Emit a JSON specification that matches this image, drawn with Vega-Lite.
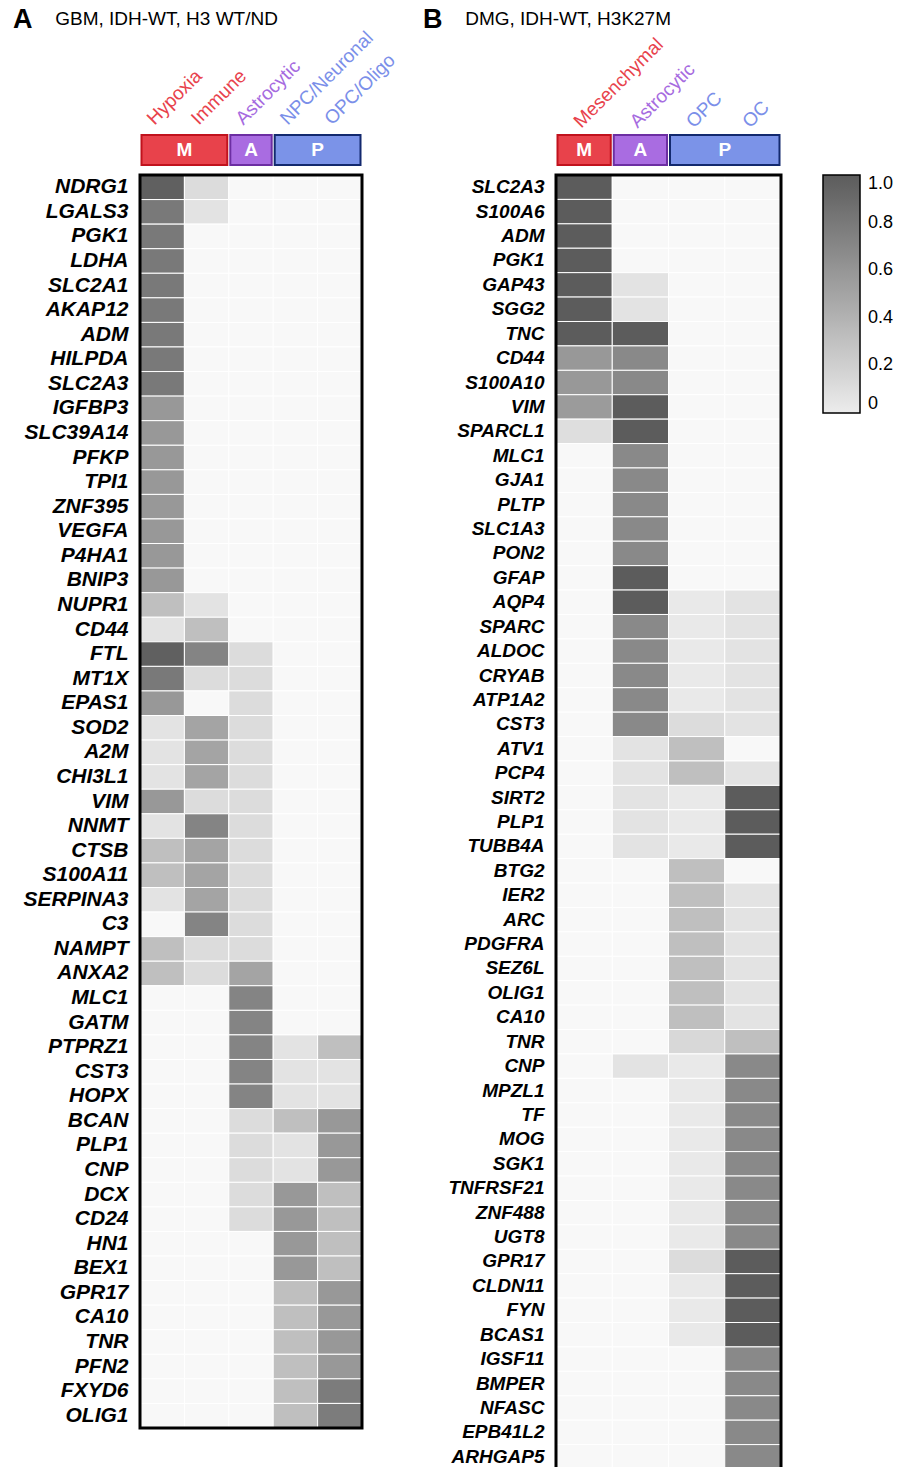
{
  "$schema": "https://vega.github.io/schema/vega-lite/v6.json",
  "background": "white",
  "padding": {"left": 12, "top": 5, "right": 5, "bottom": 0},
  "config": {"font": "Liberation Sans", "view": {"stroke": null}},
  "datasets": {
    "a": [
      {"g":"NDRG1","Hypoxia":0.97,"Immune":0.11,"Astrocytic":0,"NPC/Neuronal":0,"OPC/Oligo":0},
      {"g":"LGALS3","Hypoxia":0.8,"Immune":0.06,"Astrocytic":0,"NPC/Neuronal":0,"OPC/Oligo":0},
      {"g":"PGK1","Hypoxia":0.8,"Immune":0,"Astrocytic":0,"NPC/Neuronal":0,"OPC/Oligo":0},
      {"g":"LDHA","Hypoxia":0.8,"Immune":0,"Astrocytic":0,"NPC/Neuronal":0,"OPC/Oligo":0},
      {"g":"SLC2A1","Hypoxia":0.8,"Immune":0,"Astrocytic":0,"NPC/Neuronal":0,"OPC/Oligo":0},
      {"g":"AKAP12","Hypoxia":0.8,"Immune":0,"Astrocytic":0,"NPC/Neuronal":0,"OPC/Oligo":0},
      {"g":"ADM","Hypoxia":0.8,"Immune":0,"Astrocytic":0,"NPC/Neuronal":0,"OPC/Oligo":0},
      {"g":"HILPDA","Hypoxia":0.8,"Immune":0,"Astrocytic":0,"NPC/Neuronal":0,"OPC/Oligo":0},
      {"g":"SLC2A3","Hypoxia":0.8,"Immune":0,"Astrocytic":0,"NPC/Neuronal":0,"OPC/Oligo":0},
      {"g":"IGFBP3","Hypoxia":0.58,"Immune":0,"Astrocytic":0,"NPC/Neuronal":0,"OPC/Oligo":0},
      {"g":"SLC39A14","Hypoxia":0.58,"Immune":0,"Astrocytic":0,"NPC/Neuronal":0,"OPC/Oligo":0},
      {"g":"PFKP","Hypoxia":0.58,"Immune":0,"Astrocytic":0,"NPC/Neuronal":0,"OPC/Oligo":0},
      {"g":"TPI1","Hypoxia":0.58,"Immune":0,"Astrocytic":0,"NPC/Neuronal":0,"OPC/Oligo":0},
      {"g":"ZNF395","Hypoxia":0.58,"Immune":0,"Astrocytic":0,"NPC/Neuronal":0,"OPC/Oligo":0},
      {"g":"VEGFA","Hypoxia":0.58,"Immune":0,"Astrocytic":0,"NPC/Neuronal":0,"OPC/Oligo":0},
      {"g":"P4HA1","Hypoxia":0.58,"Immune":0,"Astrocytic":0,"NPC/Neuronal":0,"OPC/Oligo":0},
      {"g":"BNIP3","Hypoxia":0.58,"Immune":0,"Astrocytic":0,"NPC/Neuronal":0,"OPC/Oligo":0},
      {"g":"NUPR1","Hypoxia":0.31,"Immune":0.06,"Astrocytic":0,"NPC/Neuronal":0,"OPC/Oligo":0},
      {"g":"CD44","Hypoxia":0.06,"Immune":0.31,"Astrocytic":0,"NPC/Neuronal":0,"OPC/Oligo":0},
      {"g":"FTL","Hypoxia":0.97,"Immune":0.72,"Astrocytic":0.11,"NPC/Neuronal":0,"OPC/Oligo":0},
      {"g":"MT1X","Hypoxia":0.8,"Immune":0.11,"Astrocytic":0.11,"NPC/Neuronal":0,"OPC/Oligo":0},
      {"g":"EPAS1","Hypoxia":0.58,"Immune":0,"Astrocytic":0.11,"NPC/Neuronal":0,"OPC/Oligo":0},
      {"g":"SOD2","Hypoxia":0.06,"Immune":0.5,"Astrocytic":0.11,"NPC/Neuronal":0,"OPC/Oligo":0},
      {"g":"A2M","Hypoxia":0.06,"Immune":0.5,"Astrocytic":0.11,"NPC/Neuronal":0,"OPC/Oligo":0},
      {"g":"CHI3L1","Hypoxia":0.06,"Immune":0.5,"Astrocytic":0.11,"NPC/Neuronal":0,"OPC/Oligo":0},
      {"g":"VIM","Hypoxia":0.58,"Immune":0.11,"Astrocytic":0.11,"NPC/Neuronal":0,"OPC/Oligo":0},
      {"g":"NNMT","Hypoxia":0.06,"Immune":0.72,"Astrocytic":0.11,"NPC/Neuronal":0,"OPC/Oligo":0},
      {"g":"CTSB","Hypoxia":0.31,"Immune":0.5,"Astrocytic":0.11,"NPC/Neuronal":0,"OPC/Oligo":0},
      {"g":"S100A11","Hypoxia":0.31,"Immune":0.5,"Astrocytic":0.11,"NPC/Neuronal":0,"OPC/Oligo":0},
      {"g":"SERPINA3","Hypoxia":0.06,"Immune":0.5,"Astrocytic":0.11,"NPC/Neuronal":0,"OPC/Oligo":0},
      {"g":"C3","Hypoxia":0,"Immune":0.72,"Astrocytic":0.11,"NPC/Neuronal":0,"OPC/Oligo":0},
      {"g":"NAMPT","Hypoxia":0.31,"Immune":0.11,"Astrocytic":0.11,"NPC/Neuronal":0,"OPC/Oligo":0},
      {"g":"ANXA2","Hypoxia":0.31,"Immune":0.11,"Astrocytic":0.5,"NPC/Neuronal":0,"OPC/Oligo":0},
      {"g":"MLC1","Hypoxia":0,"Immune":0,"Astrocytic":0.72,"NPC/Neuronal":0,"OPC/Oligo":0},
      {"g":"GATM","Hypoxia":0,"Immune":0,"Astrocytic":0.72,"NPC/Neuronal":0,"OPC/Oligo":0},
      {"g":"PTPRZ1","Hypoxia":0,"Immune":0,"Astrocytic":0.72,"NPC/Neuronal":0.06,"OPC/Oligo":0.31},
      {"g":"CST3","Hypoxia":0,"Immune":0,"Astrocytic":0.72,"NPC/Neuronal":0.06,"OPC/Oligo":0.06},
      {"g":"HOPX","Hypoxia":0,"Immune":0,"Astrocytic":0.72,"NPC/Neuronal":0.06,"OPC/Oligo":0.06},
      {"g":"BCAN","Hypoxia":0,"Immune":0,"Astrocytic":0.11,"NPC/Neuronal":0.31,"OPC/Oligo":0.58},
      {"g":"PLP1","Hypoxia":0,"Immune":0,"Astrocytic":0.11,"NPC/Neuronal":0.06,"OPC/Oligo":0.58},
      {"g":"CNP","Hypoxia":0,"Immune":0,"Astrocytic":0.11,"NPC/Neuronal":0.06,"OPC/Oligo":0.58},
      {"g":"DCX","Hypoxia":0,"Immune":0,"Astrocytic":0.11,"NPC/Neuronal":0.58,"OPC/Oligo":0.31},
      {"g":"CD24","Hypoxia":0,"Immune":0,"Astrocytic":0.11,"NPC/Neuronal":0.58,"OPC/Oligo":0.31},
      {"g":"HN1","Hypoxia":0,"Immune":0,"Astrocytic":0,"NPC/Neuronal":0.58,"OPC/Oligo":0.31},
      {"g":"BEX1","Hypoxia":0,"Immune":0,"Astrocytic":0,"NPC/Neuronal":0.58,"OPC/Oligo":0.31},
      {"g":"GPR17","Hypoxia":0,"Immune":0,"Astrocytic":0,"NPC/Neuronal":0.31,"OPC/Oligo":0.58},
      {"g":"CA10","Hypoxia":0,"Immune":0,"Astrocytic":0,"NPC/Neuronal":0.31,"OPC/Oligo":0.58},
      {"g":"TNR","Hypoxia":0,"Immune":0,"Astrocytic":0,"NPC/Neuronal":0.31,"OPC/Oligo":0.58},
      {"g":"PFN2","Hypoxia":0,"Immune":0,"Astrocytic":0,"NPC/Neuronal":0.31,"OPC/Oligo":0.58},
      {"g":"FXYD6","Hypoxia":0,"Immune":0,"Astrocytic":0,"NPC/Neuronal":0.31,"OPC/Oligo":0.78},
      {"g":"OLIG1","Hypoxia":0,"Immune":0,"Astrocytic":0,"NPC/Neuronal":0.31,"OPC/Oligo":0.78}
    ],
    "b": [
      {"g":"SLC2A3","Mesenchymal":1,"Astrocytic":0,"OPC":0,"OC":0},
      {"g":"S100A6","Mesenchymal":1,"Astrocytic":0,"OPC":0,"OC":0},
      {"g":"ADM","Mesenchymal":1,"Astrocytic":0,"OPC":0,"OC":0},
      {"g":"PGK1","Mesenchymal":1,"Astrocytic":0,"OPC":0,"OC":0},
      {"g":"GAP43","Mesenchymal":1,"Astrocytic":0.06,"OPC":0,"OC":0},
      {"g":"SGG2","Mesenchymal":1,"Astrocytic":0.06,"OPC":0,"OC":0},
      {"g":"TNC","Mesenchymal":1,"Astrocytic":1,"OPC":0,"OC":0},
      {"g":"CD44","Mesenchymal":0.58,"Astrocytic":0.69,"OPC":0,"OC":0},
      {"g":"S100A10","Mesenchymal":0.58,"Astrocytic":0.69,"OPC":0,"OC":0},
      {"g":"VIM","Mesenchymal":0.56,"Astrocytic":1,"OPC":0,"OC":0},
      {"g":"SPARCL1","Mesenchymal":0.1,"Astrocytic":1,"OPC":0,"OC":0},
      {"g":"MLC1","Mesenchymal":0,"Astrocytic":0.69,"OPC":0,"OC":0},
      {"g":"GJA1","Mesenchymal":0,"Astrocytic":0.69,"OPC":0,"OC":0},
      {"g":"PLTP","Mesenchymal":0,"Astrocytic":0.69,"OPC":0,"OC":0},
      {"g":"SLC1A3","Mesenchymal":0,"Astrocytic":0.69,"OPC":0,"OC":0},
      {"g":"PON2","Mesenchymal":0,"Astrocytic":0.69,"OPC":0,"OC":0},
      {"g":"GFAP","Mesenchymal":0,"Astrocytic":1,"OPC":0,"OC":0},
      {"g":"AQP4","Mesenchymal":0,"Astrocytic":1,"OPC":0.02,"OC":0.06},
      {"g":"SPARC","Mesenchymal":0,"Astrocytic":0.69,"OPC":0.02,"OC":0.06},
      {"g":"ALDOC","Mesenchymal":0,"Astrocytic":0.69,"OPC":0.02,"OC":0.06},
      {"g":"CRYAB","Mesenchymal":0,"Astrocytic":0.69,"OPC":0.02,"OC":0.06},
      {"g":"ATP1A2","Mesenchymal":0,"Astrocytic":0.69,"OPC":0.02,"OC":0.06},
      {"g":"CST3","Mesenchymal":0,"Astrocytic":0.69,"OPC":0.11,"OC":0.06},
      {"g":"ATV1","Mesenchymal":0,"Astrocytic":0.06,"OPC":0.31,"OC":0},
      {"g":"PCP4","Mesenchymal":0,"Astrocytic":0.06,"OPC":0.31,"OC":0.06},
      {"g":"SIRT2","Mesenchymal":0,"Astrocytic":0.06,"OPC":0.02,"OC":1},
      {"g":"PLP1","Mesenchymal":0,"Astrocytic":0.06,"OPC":0.02,"OC":1},
      {"g":"TUBB4A","Mesenchymal":0,"Astrocytic":0.06,"OPC":0.02,"OC":1},
      {"g":"BTG2","Mesenchymal":0,"Astrocytic":0,"OPC":0.31,"OC":0},
      {"g":"IER2","Mesenchymal":0,"Astrocytic":0,"OPC":0.31,"OC":0.06},
      {"g":"ARC","Mesenchymal":0,"Astrocytic":0,"OPC":0.31,"OC":0.06},
      {"g":"PDGFRA","Mesenchymal":0,"Astrocytic":0,"OPC":0.31,"OC":0.06},
      {"g":"SEZ6L","Mesenchymal":0,"Astrocytic":0,"OPC":0.31,"OC":0.06},
      {"g":"OLIG1","Mesenchymal":0,"Astrocytic":0,"OPC":0.31,"OC":0.06},
      {"g":"CA10","Mesenchymal":0,"Astrocytic":0,"OPC":0.31,"OC":0.06},
      {"g":"TNR","Mesenchymal":0,"Astrocytic":0,"OPC":0.14,"OC":0.31},
      {"g":"CNP","Mesenchymal":0,"Astrocytic":0.06,"OPC":0.02,"OC":0.69},
      {"g":"MPZL1","Mesenchymal":0,"Astrocytic":0,"OPC":0.02,"OC":0.69},
      {"g":"TF","Mesenchymal":0,"Astrocytic":0,"OPC":0.02,"OC":0.69},
      {"g":"MOG","Mesenchymal":0,"Astrocytic":0,"OPC":0.02,"OC":0.69},
      {"g":"SGK1","Mesenchymal":0,"Astrocytic":0,"OPC":0.02,"OC":0.69},
      {"g":"TNFRSF21","Mesenchymal":0,"Astrocytic":0,"OPC":0.02,"OC":0.69},
      {"g":"ZNF488","Mesenchymal":0,"Astrocytic":0,"OPC":0.02,"OC":0.69},
      {"g":"UGT8","Mesenchymal":0,"Astrocytic":0,"OPC":0.02,"OC":0.69},
      {"g":"GPR17","Mesenchymal":0,"Astrocytic":0,"OPC":0.11,"OC":1},
      {"g":"CLDN11","Mesenchymal":0,"Astrocytic":0,"OPC":0.02,"OC":1},
      {"g":"FYN","Mesenchymal":0,"Astrocytic":0,"OPC":0.02,"OC":1},
      {"g":"BCAS1","Mesenchymal":0,"Astrocytic":0,"OPC":0.02,"OC":1},
      {"g":"IGSF11","Mesenchymal":0,"Astrocytic":0,"OPC":0,"OC":0.69},
      {"g":"BMPER","Mesenchymal":0,"Astrocytic":0,"OPC":0,"OC":0.69},
      {"g":"NFASC","Mesenchymal":0,"Astrocytic":0,"OPC":0,"OC":0.69},
      {"g":"EPB41L2","Mesenchymal":0,"Astrocytic":0,"OPC":0,"OC":0.69},
      {"g":"ARHGAP5","Mesenchymal":0,"Astrocytic":0,"OPC":0,"OC":0.69}
    ],
    "ha": [
      {"grp":"M","s":"Hypoxia","e":"Immune","lc":"Hypoxia","span":2},
      {"grp":"A","s":"Astrocytic","e":"Astrocytic","lc":"Astrocytic","span":1},
      {"grp":"P","s":"NPC/Neuronal","e":"OPC/Oligo","lc":"NPC/Neuronal","span":2}
    ],
    "hb": [
      {"grp":"M","s":"Mesenchymal","e":"Mesenchymal","lc":"Mesenchymal","span":1},
      {"grp":"A","s":"Astrocytic","e":"Astrocytic","lc":"Astrocytic","span":1},
      {"grp":"P","s":"OPC","e":"OC","lc":"OPC","span":2}
    ]
  },
  "spacing": 23,
  "resolve": {"scale": {"color": "independent"}, "legend": {"color": "independent"}},
  "hconcat": [
    {
      "title": {"text": "A", "subtitle": "\u200b\u00a0\u00a0\u00a0\u00a0\u00a0\u00a0\u00a0\u00a0GBM, IDH-WT, H3 WT/ND", "anchor": "start", "frame": "bounds", "fontSize": 27, "fontWeight": "bold", "color": "black", "subtitleFontSize": 19, "subtitleColor": "black", "subtitlePadding": -24, "offset": -6, "dx": -10},
      "spacing": 7,
      "vconcat": [
        {
          "width": 222, "height": 30,
          "data": {"name": "ha"},
          "layer": [
            {
              "mark": {"type": "rect", "strokeWidth": 2, "xOffset": 1.5, "x2Offset": -1.5},
              "encoding": {
                "x": {"field": "s", "type": "nominal", "bandPosition": 0,
                  "scale": {"domain": ["Hypoxia","Immune","Astrocytic","NPC/Neuronal","OPC/Oligo"], "paddingInner": 0, "paddingOuter": 0},
                  "axis": {"orient": "top", "title": null, "domain": false, "ticks": false, "labelAngle": -45, "labelAlign": "left", "labelBaseline": "middle", "labelFontSize": 19, "labelPadding": 14, "labelOffset": -12,
                    "labelColor": {"condition": [{"test": "datum.value == 'Hypoxia' || datum.value == 'Immune'", "value": "#e8424c"}, {"test": "datum.value == 'Astrocytic'", "value": "#a66be0"}], "value": "#7b8fe9"}}},
                "x2": {"field": "e", "bandPosition": 1},
                "fill": {"field": "grp", "type": "nominal", "scale": {"domain": ["M","A","P"], "range": ["#e8424b","#a96ce1","#7b93e8"]}, "legend": null},
                "stroke": {"field": "grp", "type": "nominal", "scale": {"domain": ["M","A","P"], "range": ["#c1121d","#6c2ea2","#13296e"]}, "legend": null}
              }
            },
            {
              "transform": [{"filter": "datum.span == 1"}],
              "mark": {"type": "text", "color": "white", "fontWeight": "bold", "fontSize": 19, "baseline": "middle"},
              "encoding": {"x": {"field": "lc", "type": "nominal", "bandPosition": 0.5}, "text": {"field": "grp"}}
            },
            {
              "transform": [{"filter": "datum.span == 2"}],
              "mark": {"type": "text", "color": "white", "fontWeight": "bold", "fontSize": 19, "baseline": "middle"},
              "encoding": {"x": {"field": "lc", "type": "nominal", "bandPosition": 1}, "text": {"field": "grp"}}
            }
          ]
        },
        {
          "width": 222, "height": 1253,
          "layer": [
            {
              "data": {"name": "a"},
              "transform": [{"fold": ["Hypoxia","Immune","Astrocytic","NPC/Neuronal","OPC/Oligo"], "as": ["c","v"]}],
              "mark": {"type": "rect", "stroke": "white", "strokeWidth": 1},
              "encoding": {
                "x": {"field": "c", "type": "nominal", "scale": {"domain": ["Hypoxia","Immune","Astrocytic","NPC/Neuronal","OPC/Oligo"], "paddingInner": 0, "paddingOuter": 0}, "axis": null},
                "y": {"field": "g", "type": "nominal", "sort": null, "scale": {"paddingInner": 0, "paddingOuter": 0},
                  "axis": {"title": null, "domain": false, "ticks": false, "labelFontSize": 21, "labelFontWeight": "bold", "labelFontStyle": "italic", "labelColor": "black", "labelPadding": 12}},
                "color": {"field": "v", "type": "quantitative",
                  "condition": {"test": "!(datum.v > 0)", "value": "#f8f8f8"},
                  "scale": {"domain": [0, 1], "range": ["#ececec", "#5c5c5c"], "interpolate": "rgb"},
                  "legend": null}
              }
            },
            {
              "data": {"values": [{"frame": "border"}]},
              "mark": {"type": "rect", "fill": null, "stroke": "black", "strokeWidth": 3},
              "encoding": {}
            }
          ]
        }
      ]
    },
    {
      "title": {"text": "B", "subtitle": "\u200b\u00a0\u00a0\u00a0\u00a0\u00a0\u00a0\u00a0\u00a0DMG, IDH-WT, H3K27M", "anchor": "start", "frame": "bounds", "fontSize": 27, "fontWeight": "bold", "color": "black", "subtitleFontSize": 19, "subtitleColor": "black", "subtitlePadding": -24, "offset": 1, "dx": -25},
      "spacing": 7,
      "resolve": {"scale": {"color": "independent"}, "legend": {"color": "independent"}},
      "vconcat": [
        {
          "width": 225, "height": 30,
          "data": {"name": "hb"},
          "layer": [
            {
              "mark": {"type": "rect", "strokeWidth": 2, "xOffset": 1.5, "x2Offset": -1.5},
              "encoding": {
                "x": {"field": "s", "type": "nominal", "bandPosition": 0,
                  "scale": {"domain": ["Mesenchymal","Astrocytic","OPC","OC"], "paddingInner": 0, "paddingOuter": 0},
                  "axis": {"orient": "top", "title": null, "domain": false, "ticks": false, "labelAngle": -45, "labelAlign": "left", "labelBaseline": "middle", "labelFontSize": 19, "labelPadding": 11, "labelOffset": -7,
                    "labelColor": {"condition": [{"test": "datum.value == 'Mesenchymal'", "value": "#e8424c"}, {"test": "datum.value == 'Astrocytic'", "value": "#a66be0"}], "value": "#7b8fe9"}}},
                "x2": {"field": "e", "bandPosition": 1},
                "fill": {"field": "grp", "type": "nominal", "scale": {"domain": ["M","A","P"], "range": ["#e8424b","#a96ce1","#7b93e8"]}, "legend": null},
                "stroke": {"field": "grp", "type": "nominal", "scale": {"domain": ["M","A","P"], "range": ["#c1121d","#6c2ea2","#13296e"]}, "legend": null}
              }
            },
            {
              "transform": [{"filter": "datum.span == 1"}],
              "mark": {"type": "text", "color": "white", "fontWeight": "bold", "fontSize": 19, "baseline": "middle"},
              "encoding": {"x": {"field": "lc", "type": "nominal", "bandPosition": 0.5}, "text": {"field": "grp"}}
            },
            {
              "transform": [{"filter": "datum.span == 2"}],
              "mark": {"type": "text", "color": "white", "fontWeight": "bold", "fontSize": 19, "baseline": "middle"},
              "encoding": {"x": {"field": "lc", "type": "nominal", "bandPosition": 1}, "text": {"field": "grp"}}
            }
          ]
        },
        {
          "width": 225, "height": 1294,
          "layer": [
            {
              "data": {"name": "b"},
              "transform": [{"fold": ["Mesenchymal","Astrocytic","OPC","OC"], "as": ["c","v"]}],
              "mark": {"type": "rect", "stroke": "white", "strokeWidth": 1},
              "encoding": {
                "x": {"field": "c", "type": "nominal", "scale": {"domain": ["Mesenchymal","Astrocytic","OPC","OC"], "paddingInner": 0, "paddingOuter": 0}, "axis": null},
                "y": {"field": "g", "type": "nominal", "sort": null, "scale": {"paddingInner": 0, "paddingOuter": 0},
                  "axis": {"title": null, "domain": false, "ticks": false, "labelFontSize": 19, "labelFontWeight": "bold", "labelFontStyle": "italic", "labelColor": "black", "labelPadding": 12}},
                "color": {"field": "v", "type": "quantitative",
                  "condition": {"test": "!(datum.v > 0)", "value": "#f8f8f8"},
                  "scale": {"domain": [0, 1], "range": ["#ececec", "#5c5c5c"], "interpolate": "rgb"},
                  "legend": {"title": null, "orient": "right", "offset": 42, "direction": "vertical", "gradientLength": 238, "gradientThickness": 37, "gradientStrokeColor": "black", "gradientStrokeWidth": 1.5, "labelFontSize": 18, "labelColor": "black", "labelOffset": 8, "labelBaseline": "middle", "labelOverlap": false, "values": [0, 0.2, 0.4, 0.6, 0.8, 1], "labelExpr": "datum.value == 0 ? '0' : format(datum.value, '.1f')"}}
              }
            },
            {
              "data": {"values": [{"frame": "border"}]},
              "mark": {"type": "rect", "fill": null, "stroke": "black", "strokeWidth": 3},
              "encoding": {}
            }
          ]
        }
      ]
    }
  ]
}
